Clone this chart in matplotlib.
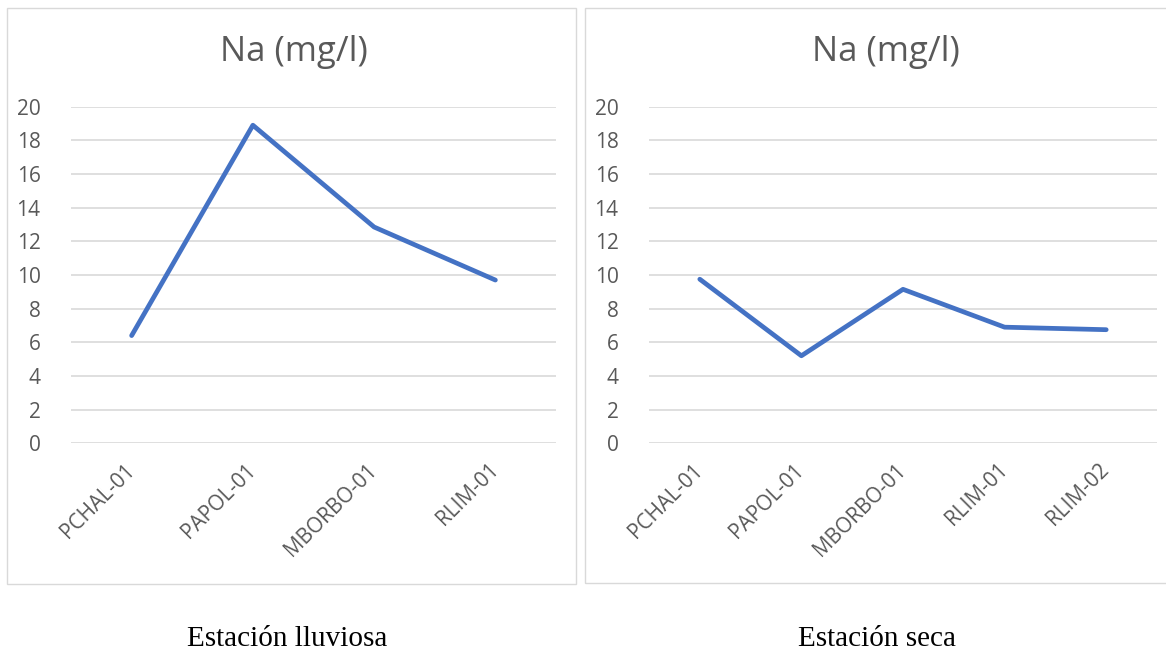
import matplotlib
matplotlib.use("Agg")
import matplotlib.pyplot as plt
from matplotlib.patches import Rectangle

# Sodium concentration per station, rainy and dry season
rainy_stations = ["PCHAL-01", "PAPOL-01", "MBORBO-01", "RLIM-01"]
rainy_na = [6.4, 18.9, 12.85, 9.7]

dry_stations = ["PCHAL-01", "PAPOL-01", "MBORBO-01", "RLIM-01", "RLIM-02"]
dry_na = [9.75, 5.2, 9.15, 6.9, 6.75]

y_ticks = [0, 2, 4, 6, 8, 10, 12, 14, 16, 18, 20]
chart_title = "Na (mg/l)"
captions = ["Estación lluviosa", "Estación seca"]

W, H = 1166, 655
fig = plt.figure(figsize=(W / 100, H / 100), dpi=100)

TEXT = "#595959"
GRID = "#D9D9D9"
LINE = "#4472C4"
FONT = "Open Sans"


def fx(px):
    return px / W


def fy(py):
    return 1 - py / H


# chart frames
for x0, x1, y0, y1 in [(7, 576, 8, 584), (585, 1180, 8, 583)]:
    fig.add_artist(Rectangle((fx(x0), fy(y1)), fx(x1 - x0), (y1 - y0) / H,
                             transform=fig.transFigure, fill=False,
                             edgecolor=GRID, linewidth=1.0))


def draw_panel(rect, stations, values, title_x):
    ax = fig.add_axes(rect)
    n = len(stations)
    xs = list(range(n))
    ax.plot(xs, values, color=LINE, linewidth=3.4, solid_capstyle="round",
            solid_joinstyle="round", zorder=3)
    ax.set_xlim(-0.5, n - 0.5)
    ax.set_ylim(0, 20)
    ax.set_yticks(y_ticks)
    ax.set_yticklabels([str(t) for t in y_ticks], fontsize=15, color=TEXT,
                       family=FONT)
    ax.yaxis.grid(True, color=GRID, linewidth=1.2)
    ax.set_axisbelow(True)
    ax.tick_params(axis="y", length=0, pad=22)
    ax.tick_params(axis="x", length=0, pad=17)
    ax.set_xticks(xs)
    ax.set_xticklabels(stations, rotation=45, ha="right", va="center",
                       rotation_mode="anchor", fontsize=15, color=TEXT,
                       family=FONT)
    for s in ax.spines.values():
        s.set_visible(False)
    fig.text(fx(title_x), fy(52), chart_title, ha="center", va="center",
             fontsize=25, color=TEXT, family=FONT)
    return ax


draw_panel([fx(71), fy(443.3), fx(556 - 71), (443.3 - 106.7) / H],
           rainy_stations, rainy_na, 294)
draw_panel([fx(649), fy(443.3), fx(1157 - 649), (443.3 - 106.7) / H],
           dry_stations, dry_na, 886)

fig.text(fx(287), fy(639), captions[0], ha="center", va="center",
         fontsize=21, family="Liberation Serif", color="black")
fig.text(fx(877), fy(639), captions[1], ha="center", va="center",
         fontsize=21, family="Liberation Serif", color="black")

fig.savefig("out.png", dpi=100, facecolor="white")
